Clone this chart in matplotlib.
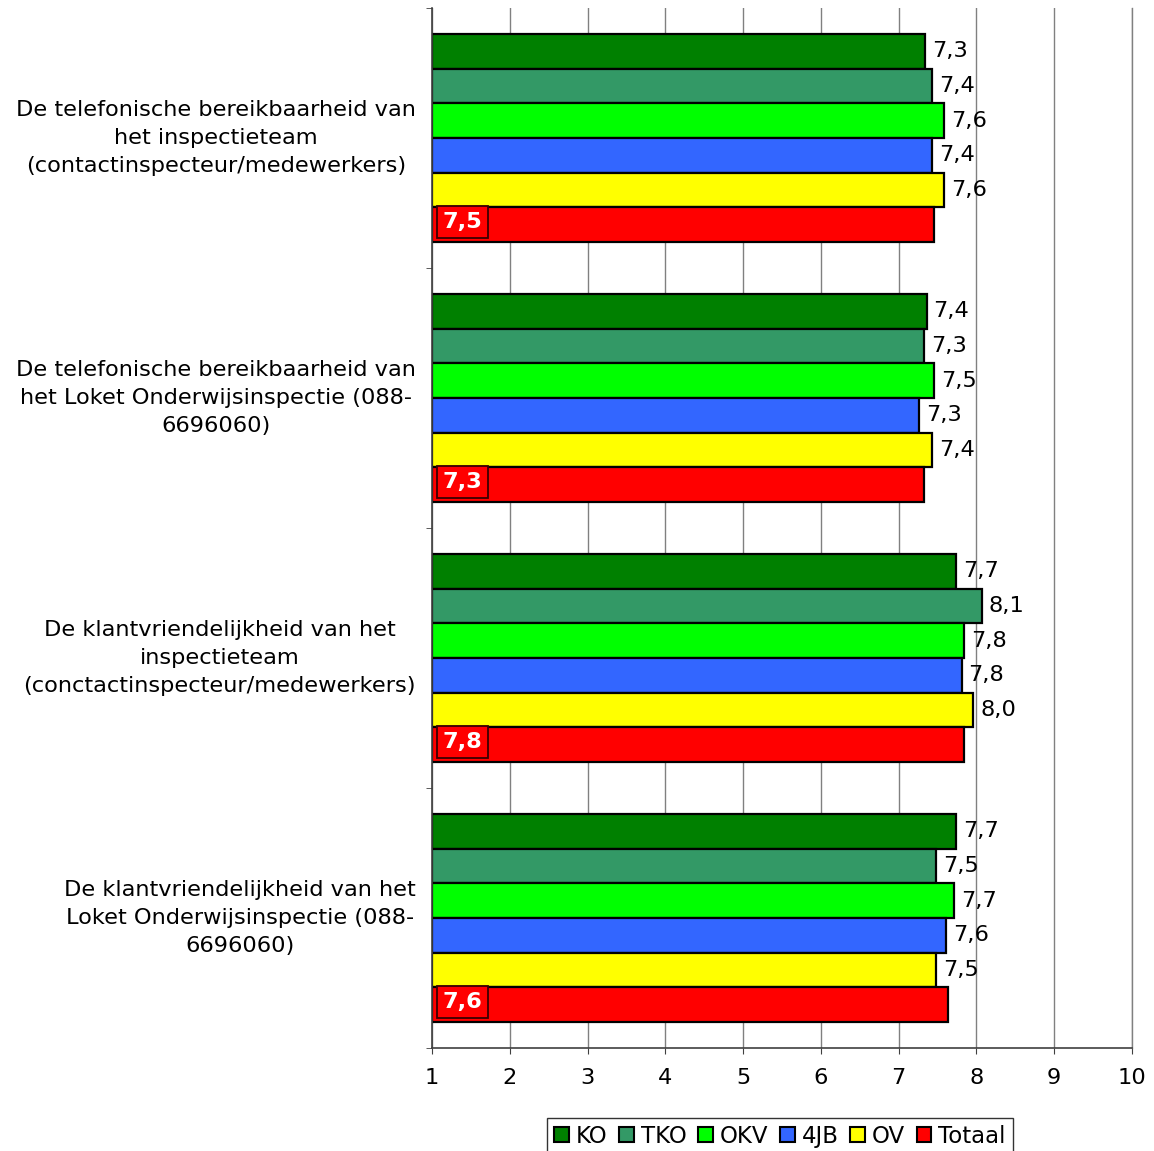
import matplotlib
matplotlib.use("Agg")
import matplotlib.pyplot as plt
from matplotlib.ticker import FixedLocator
import numpy as np

categories = [
    "De telefonische bereikbaarheid van\nhet inspectieteam\n(contactinspecteur/medewerkers)",
    "De telefonische bereikbaarheid van\nhet Loket Onderwijsinspectie (088-\n6696060)",
    "De klantvriendelijkheid van het\ninspectieteam\n(conctactinspecteur/medewerkers)",
    "De klantvriendelijkheid van het\nLoket Onderwijsinspectie (088-\n6696060)",
]
series_names = ["KO", "TKO", "OKV", "4JB", "OV", "Totaal"]
ko = [7.34, 7.36, 7.74, 7.74]
tko = [7.43, 7.33, 8.07, 7.48]
okv = [7.58, 7.46, 7.84, 7.71]
jb4 = [7.43, 7.26, 7.81, 7.61]
ov = [7.58, 7.43, 7.96, 7.48]
totaal = [7.46, 7.33, 7.84, 7.64]
x_ticks = [1, 2, 3, 4, 5, 6, 7, 8, 9, 10]

colors = ["#008000", "#339966", "#00FF00", "#3366FF", "#FFFF00", "#FF0000"]
all_series = [ko, tko, okv, jb4, ov, totaal]

FS = 16.2


def fmt(v):
    return f"{v:.1f}".replace(".", ",")


fig = plt.figure(figsize=(11.54, 11.51), dpi=100)
ax = fig.add_axes([432 / 1154, 1 - 1048 / 1151, 700 / 1154, 1040 / 1151])

n = len(series_names)
h = 0.8 / n
ypos = np.arange(len(categories))

# --- bars ---
for j, (name, vals, c) in enumerate(zip(series_names, all_series, colors)):
    yy = ypos + (j - (n - 1) / 2) * h
    widths = [v - x_ticks[0] for v in vals]
    ax.barh(yy, widths, left=x_ticks[0], height=h, color=c, edgecolor="black",
            linewidth=1.6, label=name, zorder=2)
    for y, v in zip(yy, vals):
        if name == "Totaal":
            # boxed label sits at the start of the red bar
            ax.text(x_ticks[0] + 0.135, y - 0.01, fmt(v), ha="left", va="center",
                    color="white", fontsize=FS, fontweight="bold", zorder=4,
                    bbox=dict(boxstyle="square,pad=0.25", fc="#FF0000",
                              ec="#3a0000", lw=1.3))
        else:
            ax.annotate(fmt(v), (v, y), xytext=(5, 0), textcoords="offset points",
                        ha="left", va="center", fontsize=FS, zorder=4)

# --- axes ---
ax.set_xlim(x_ticks[0], x_ticks[-1])
ax.set_ylim(len(categories) - 0.5, -0.5)
ax.set_xticks(x_ticks)
ax.set_xticklabels([str(t) for t in x_ticks], fontsize=FS)
ax.set_yticks(ypos)
ax.set_yticklabels(categories, fontsize=FS, multialignment="center",
                   linespacing=1.47, va="center")
ax.yaxis.set_minor_locator(FixedLocator(np.arange(-0.5, len(categories), 1.0)))
ax.tick_params(axis="y", which="major", length=0, pad=11.5)
ax.tick_params(axis="y", which="minor", length=4.5, color="#404040", direction="out")
ax.tick_params(axis="x", which="major", length=4.5, color="#404040", direction="out", pad=10)

ax.grid(axis="x", color="#808080", linewidth=1.0, zorder=0)
ax.set_axisbelow(True)
ax.spines["top"].set_visible(False)
ax.spines["right"].set_color("#808080")
ax.spines["right"].set_linewidth(1.0)
for s in ["left", "bottom"]:
    ax.spines[s].set_color("#404040")
    ax.spines[s].set_linewidth(1.2)

# --- legend ---
leg = fig.legend(loc="upper center", bbox_to_anchor=(780 / 1154, 1 - 1118 / 1151),
                 ncol=n, fontsize=FS + 0.3, frameon=True, fancybox=False,
                 handlelength=0.65, handleheight=0.65, handletextpad=0.3,
                 columnspacing=0.5, borderpad=0.3, borderaxespad=0)
leg.get_frame().set_edgecolor("black")
leg.get_frame().set_linewidth(1.0)
for p in leg.get_patches():
    p.set_linewidth(1.5)

fig.savefig("out.png", dpi=100)
